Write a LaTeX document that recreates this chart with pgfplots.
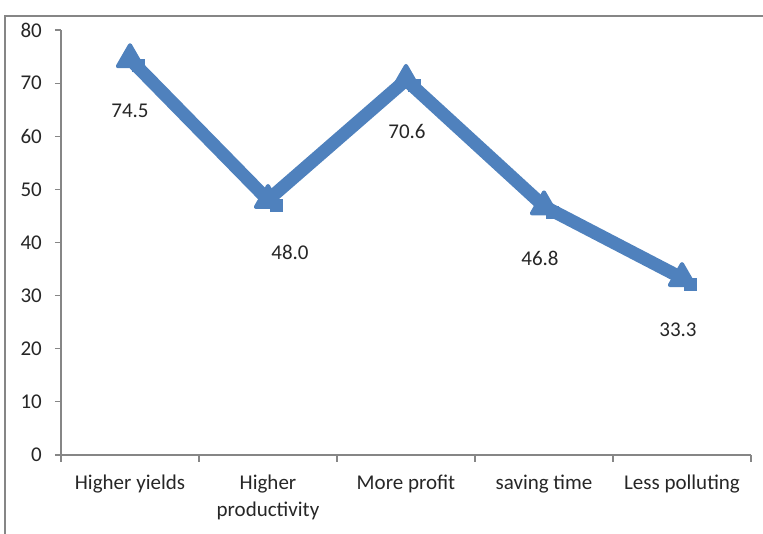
\documentclass[border=0pt]{standalone}
\usepackage{pgfplots}
\usepackage{pgfplotstable}
\pgfplotsset{compat=1.18}
\usepackage{fontspec}
\setmainfont{Carlito}
\definecolor{exblue}{HTML}{4F81BD}
\definecolor{axgray}{HTML}{868686}
\definecolor{txt}{HTML}{262626}

% x = category index, dx = sideways nudge of the data label (bp)
\pgfplotstableread{
x y dx label
0 74.5 0 74.5
1 48.0 22 48.0
2 70.6 1 70.6
3 46.8 -4 46.8
4 33.3 -4 33.3
}\benefits

\begin{document}
\begin{tikzpicture}
\useasboundingbox (0,0) rectangle (763bp,534bp);
% frame of the figure box, cut at the right and bottom
\draw[axgray, line width=1.5bp] (5bp,0) -- (5bp,518bp) -- (763bp,518bp);
\begin{axis}[
    at={(61bp,79bp)}, anchor=south west,
    scale only axis,
    width=690bp, height=425bp,
    xmin=-0.5, xmax=4.5,
    ymin=0, ymax=80,
    axis lines=left,
    axis line style={-, draw=axgray, line width=1.5bp},
    font=\fontsize{21bp}{27bp}\selectfont,
    /pgf/number format/assume math mode=true,
    ytick={0,10,...,80},
    xtick={0,...,4},
    xticklabels={Higher yields, {Higher\\productivity}, More profit, saving time, Less polluting},
    minor xtick={-0.5,0.5,...,4.5},
    tick align=outside,
    x tick style={draw=none},
    minor x tick style={draw=axgray, line width=1.2bp},
    minor tick length=7bp,
    y tick style={draw=axgray, line width=1.2bp},
    major tick length=6bp,
    xticklabel style={align=center, anchor=north, inner sep=0pt, yshift=-14bp, text=txt},
    yticklabel style={anchor=east, inner sep=0pt, xshift=-13bp, text=txt},
    clip=false,
]
\addplot[exblue, line width=13bp, line join=round,
    mark=triangle*, mark size=14bp,
    mark options={line width=4bp, line join=round, solid, fill=exblue},
    nodes near coords,
    point meta=explicit symbolic,
    visualization depends on={\thisrow{dx} \as \dx},
    every node near coord/.append style={anchor=center, text=txt,
        xshift=\dx bp, yshift=-52bp},
] table[x=x, y=y, meta=label] {\benefits};
% square part of the Excel marker
\addplot[only marks, forget plot, mark=square*, mark size=5.5bp,
    mark options={exblue, fill=exblue, line width=2bp, xshift=8bp, yshift=-6bp}]
    table[x=x, y=y] {\benefits};
\end{axis}
\end{tikzpicture}
\end{document}
